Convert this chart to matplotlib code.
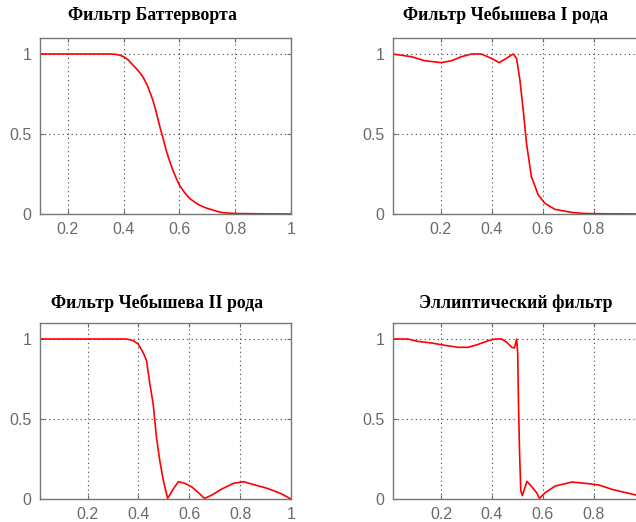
import matplotlib
matplotlib.use("Agg")
import matplotlib.pyplot as plt

# values
butter_x = [0.1, 0.2, 0.3, 0.35, 0.37, 0.385, 0.4, 0.417, 0.433, 0.45, 0.469,
            0.487, 0.505, 0.517, 0.529, 0.541, 0.552, 0.564, 0.576, 0.588, 0.6,
            0.618, 0.636, 0.655, 0.671, 0.695, 0.719, 0.74, 0.757, 0.8, 0.9, 1.0]
butter_y = [1, 1, 1, 1, 0.998, 0.993, 0.983, 0.962, 0.931, 0.9, 0.858,
            0.795, 0.71, 0.635, 0.55, 0.475, 0.40, 0.335, 0.275, 0.225, 0.18,
            0.135, 0.098, 0.074, 0.056, 0.038, 0.025, 0.014, 0.008, 0.003, 0.001, 0.0]

cheb1_x = [0.013, 0.085, 0.137, 0.202, 0.242, 0.281, 0.320, 0.359, 0.398, 0.429,
           0.457, 0.484, 0.497, 0.510, 0.523, 0.536, 0.555, 0.582, 0.608, 0.647,
           0.712, 0.765, 0.85, 1.0]
cheb1_y = [1.0, 0.983, 0.958, 0.946, 0.958, 0.983, 1.0, 1.0, 0.973, 0.946,
           0.973, 1.0, 0.973, 0.838, 0.65, 0.44, 0.233, 0.119, 0.067, 0.029,
           0.01, 0.003, 0.001, 0.0]

cheb2_x = [0.013, 0.353, 0.379, 0.399, 0.418, 0.432, 0.445, 0.458, 0.471, 0.484,
           0.498, 0.515, 0.537, 0.557, 0.583, 0.610, 0.636, 0.660, 0.689, 0.728,
           0.774, 0.814, 0.853, 0.906, 0.959, 1.0]
cheb2_y = [1.0, 1.0, 0.99, 0.969, 0.917, 0.865, 0.719, 0.594, 0.385, 0.24,
           0.115, 0.004, 0.0625, 0.108, 0.098, 0.075, 0.04, 0.003, 0.025, 0.0625,
           0.098, 0.108, 0.09, 0.067, 0.035, 0.0]

ellip_x = [0.012, 0.071, 0.11, 0.163, 0.216, 0.268, 0.307, 0.347, 0.386, 0.412,
           0.438, 0.458, 0.478, 0.488, 0.497, 0.501, 0.504, 0.508, 0.513, 0.519,
           0.537, 0.556, 0.576, 0.586, 0.609, 0.648, 0.713, 0.766, 0.819, 0.871,
           0.924, 0.969, 1.0]
ellip_y = [1.0, 1.0, 0.985, 0.975, 0.96, 0.948, 0.948, 0.967, 0.99, 1.0,
           1.0, 0.979, 0.948, 0.944, 1.0, 0.906, 0.594, 0.302, 0.052, 0.021,
           0.11, 0.077, 0.037, 0.004, 0.04, 0.081, 0.106, 0.098, 0.088, 0.06,
           0.04, 0.023, 0.015]

titles = ["Фильтр Баттерворта", "Фильтр Чебышева I рода",
          "Фильтр Чебышева II рода", "Эллиптический фильтр"]
xticks = [0.2, 0.4, 0.6, 0.8, 1]
xtick_labels_left = ["0.2", "0.4", "0.6", "0.8", "1"]
xtick_labels_right = ["0.2", "0.4", "0.6", "0.8", ""]   # "1" falls off the picture
yticks = [0, 0.5, 1]
ytick_labels = ["0", "0.5", "1"]

fig = plt.figure(figsize=(6.36, 5.22), dpi=100)

W, H = 636, 522
# left, top, width (pixels) of each panel, title centre x / baseline y
boxes = [(40, 38, 251), (393, 38, 252), (40, 323, 251), (393, 323, 252)]
title_pos = [(152, 19.5), (506, 19.5), (157, 308.5), (515.5, 308.5)]
data = [(butter_x, butter_y, 0.1, xtick_labels_left),
        (cheb1_x, cheb1_y, 0.013, xtick_labels_right),
        (cheb2_x, cheb2_y, 0.013, xtick_labels_left),
        (ellip_x, ellip_y, 0.012, xtick_labels_right)]

for (l, t, w), (xs, ys, x0, xl), title, (tx, ty) in zip(boxes, data, titles, title_pos):
    ax = fig.add_axes([l / W, 1 - (t + 176) / H, w / W, 176 / H])
    ax.plot(xs, ys, color="red", lw=1.2)
    ax.set_xlim(x0, 1)
    ax.set_ylim(0, 1.1)
    ax.set_xticks(xticks)
    ax.set_xticklabels(xl)
    ax.set_yticks(yticks)
    ax.set_yticklabels(ytick_labels)
    ax.grid(True, color="#444444", linestyle=(0, (1, 3)), lw=0.8)
    ax.tick_params(direction="in", length=3, colors="#6a6a6a", labelsize=11.5,
                   pad=6, top=True, right=True)
    for lab in ax.get_xticklabels() + ax.get_yticklabels():
        lab.set_fontfamily("Liberation Sans")
    for s in ax.spines.values():
        s.set_color("#777777")
        s.set_linewidth(1.0)
    fig.text(tx / W, 1 - ty / H, title, fontfamily="Liberation Serif",
             fontweight="bold", fontsize=12.8, ha="center", va="baseline")

fig.savefig("out.png", dpi=100)
